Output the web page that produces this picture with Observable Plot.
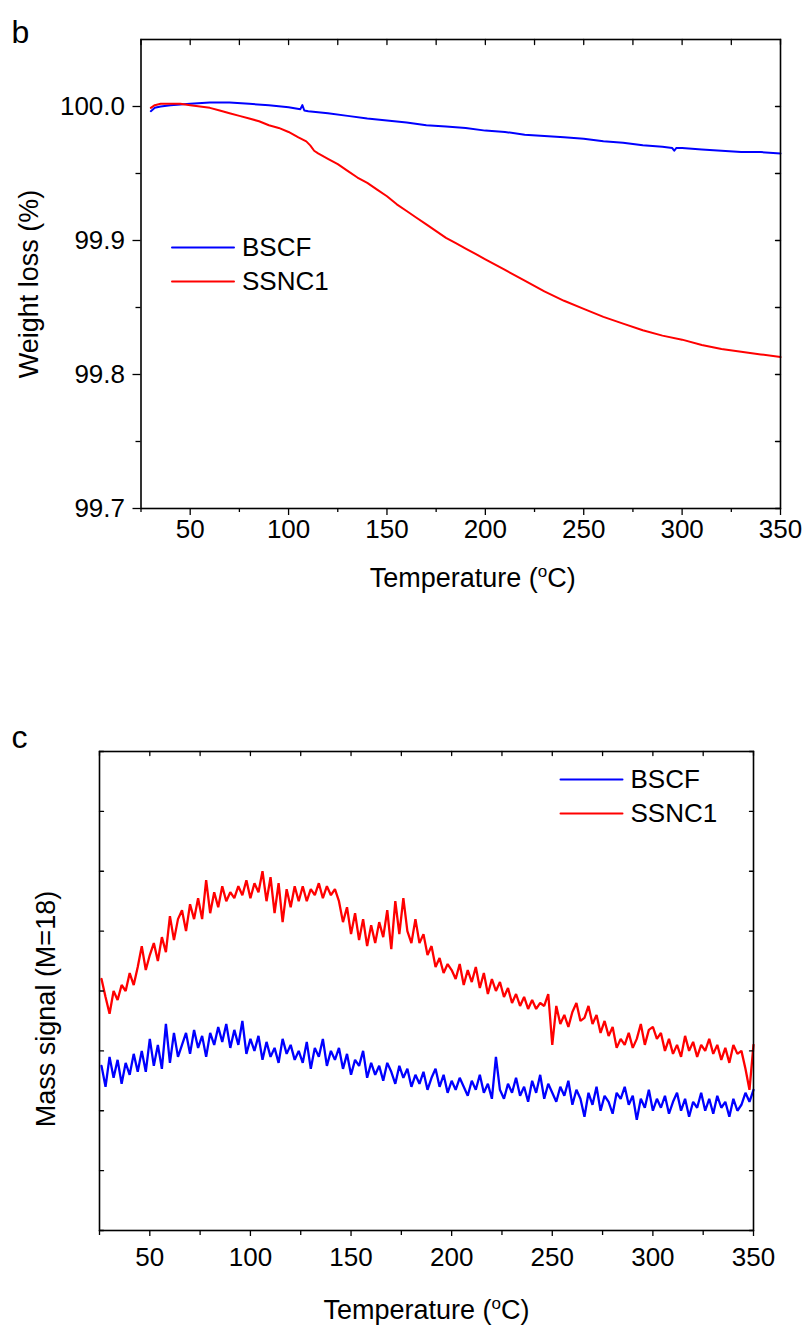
<!DOCTYPE html>
<html>
<head>
<meta charset="utf-8">
<script src="https://cdn.jsdelivr.net/npm/d3@7"></script>
<script src="https://cdn.jsdelivr.net/npm/@observablehq/plot@0.6"></script>
<style>
  html, body { margin: 0; padding: 0; background: #fff; }
  #wrap { position: relative; width: 808px; height: 1327px; background: #fff; overflow: hidden; }
  #wrap svg { position: absolute; left: 0; }
</style>
</head>
<body>
<div id="wrap"></div>
<script>
// ---------- Panel b: TGA weight loss ----------
const bTempBSCF = [30, 32, 35, 40, 50, 60, 70, 80, 90, 100, 106, 107, 108, 110, 120, 130, 140, 150, 160, 170, 180, 190, 200, 210, 220, 230, 240, 250, 260, 270, 280, 290, 295, 296, 297, 300, 310, 320, 330, 340, 350];
const bBSCF = [99.9965, 99.999, 100.000, 100.001, 100.002, 100.003, 100.003, 100.002, 100.001, 99.9995, 99.998, 100.001, 99.997, 99.9965, 99.995, 99.993, 99.991, 99.9895, 99.988, 99.986, 99.985, 99.984, 99.982, 99.981, 99.979, 99.978, 99.977, 99.976, 99.974, 99.973, 99.971, 99.970, 99.969, 99.967, 99.969, 99.969, 99.968, 99.967, 99.966, 99.966, 99.965];

const bTempSSNC1 = [30, 32, 35, 40, 45, 50, 55, 60, 65, 70, 75, 80, 85, 90, 95, 100, 105, 109, 111, 113, 115, 120, 125, 130, 135, 140, 145, 150, 155, 160, 165, 170, 175, 180, 185, 190, 195, 200, 210, 220, 230, 240, 250, 260, 270, 280, 290, 300, 310, 320, 330, 340, 350];
const bSSNC1 = [99.999, 100.001, 100.002, 100.002, 100.002, 100.001, 100.000, 99.999, 99.997, 99.995, 99.993, 99.991, 99.989, 99.986, 99.984, 99.981, 99.977, 99.974, 99.971, 99.967, 99.965, 99.961, 99.957, 99.952, 99.947, 99.943, 99.938, 99.933, 99.927, 99.922, 99.917, 99.912, 99.907, 99.902, 99.898, 99.894, 99.890, 99.886, 99.878, 99.870, 99.862, 99.855, 99.849, 99.843, 99.838, 99.833, 99.829, 99.826, 99.822, 99.819, 99.817, 99.815, 99.813];

const xMajor = [50, 100, 150, 200, 250, 300, 350];
const xMinor = [25, 75, 125, 175, 225, 275, 325];
const xAll = [25, 50, 75, 100, 125, 150, 175, 200, 225, 250, 275, 300, 325, 350];
const yMajorB = [99.7, 99.8, 99.9, 100.0];
const yMinorB = [99.75, 99.85, 99.95];
const yAllB = [99.7, 99.75, 99.8, 99.85, 99.9, 99.95, 100.0];

// ---------- Panel c: mass signal M=18 (arbitrary units) ----------
const cTemps = d3.range(26, 351, 2);
const cSSNC1 = [
  4.2, 3.9, 3.62, 4.0, 3.85, 4.1, 4.0, 4.3, 4.1, 4.4,
  4.75, 4.35, 4.6, 4.8, 4.5, 4.9, 4.65, 5.25, 4.85, 5.2,
  5.35, 5.0, 5.45, 5.2, 5.55, 5.2, 5.85, 5.3, 5.65, 5.4,
  5.75, 5.5, 5.65, 5.55, 5.75, 5.6, 5.85, 5.55, 5.8, 5.65,
  6.0, 5.5, 5.9, 5.3, 5.8, 5.15, 5.7, 5.4, 5.75, 5.5,
  5.75, 5.5, 5.7, 5.6, 5.8, 5.55, 5.75, 5.6, 5.7, 5.5,
  5.15, 5.4, 4.95, 5.3, 4.85, 5.2, 4.75, 5.1, 4.8, 5.15,
  4.9, 5.35, 4.7, 5.5, 4.95, 5.55, 5.0, 4.8, 5.2, 4.8,
  4.95, 4.6, 4.75, 4.4, 4.55, 4.3, 4.45, 4.35, 4.2, 4.45,
  4.1, 4.35, 4.15, 4.4, 4.05, 4.3, 3.95, 4.2, 4.0, 4.15,
  3.9, 4.05, 3.8, 3.95, 3.75, 3.9, 3.7, 3.85, 3.7, 3.8,
  3.75, 3.95, 3.1, 3.75, 3.45, 3.6, 3.4, 3.65, 3.8, 3.5,
  3.55, 3.75, 3.45, 3.6, 3.3, 3.5, 3.25, 3.4, 3.05, 3.2,
  3.1, 3.3, 3.05, 3.2, 3.45, 3.1, 3.35, 3.4, 3.2, 3.3,
  3.0, 3.2, 2.95, 3.1, 2.9, 3.25, 3.0, 3.15, 2.9, 3.1,
  3.0, 3.2, 2.95, 3.1, 2.85, 3.05, 2.8, 3.1, 2.95, 3.0,
  2.7, 2.35, 3.1
];
const cBSCF = [
  2.75, 2.4, 2.9, 2.55, 2.85, 2.45, 2.8, 2.6, 2.95, 2.65,
  3.0, 2.65, 3.2, 2.75, 3.1, 2.7, 3.45, 2.8, 3.3, 2.9,
  3.1, 3.3, 2.95, 3.35, 3.05, 3.25, 2.9, 3.3, 3.1, 3.4,
  3.15, 3.45, 3.05, 3.35, 3.1, 3.5, 2.95, 3.2, 3.0, 3.25,
  2.85, 3.15, 2.9, 3.05, 2.8, 3.2, 2.95, 3.1, 2.85, 3.0,
  2.8, 3.15, 2.7, 3.05, 2.9, 3.2, 2.75, 3.0, 2.85, 3.05,
  2.7, 2.95, 2.6, 2.85, 2.75, 3.0, 2.55, 2.8, 2.6, 2.75,
  2.5, 2.8, 2.65, 2.45, 2.75, 2.55, 2.7, 2.4, 2.6, 2.45,
  2.65, 2.35, 2.55, 2.7, 2.4, 2.6, 2.3, 2.5, 2.35, 2.55,
  2.4, 2.25, 2.5, 2.35, 2.6, 2.3, 2.45, 2.2, 2.9, 2.35,
  2.2, 2.45, 2.3, 2.55, 2.25, 2.4, 2.15, 2.5, 2.3, 2.6,
  2.2, 2.45, 2.3, 2.15, 2.4, 2.25, 2.5, 2.1, 2.35, 2.2,
  1.9, 2.3, 2.1, 2.4, 2.0, 2.25, 2.15, 1.95, 2.3, 2.2,
  2.4, 2.1, 2.25, 1.85, 2.2, 2.05, 2.35, 2.0, 2.2, 2.05,
  2.25, 1.95, 2.15, 2.3, 2.0, 2.2, 1.9, 2.15, 2.05, 2.3,
  2.0, 2.2, 1.95, 2.25, 2.05, 2.15, 1.9, 2.2, 2.0, 2.1,
  2.3, 2.15, 2.35
];
const yTicksC = [0, 1, 2, 3, 4, 5, 6, 7, 8];

const seriesNames = ["BSCF", "SSNC1"];
const seriesColors = ["#0000ff", "#ff0000"];

// ---------- helpers ----------
const FONT = "'Liberation Sans', Arial, Helvetica, sans-serif";
const tickShape = {draw(ctx, l) { ctx.moveTo(0, 0); ctx.lineTo(0, -l); }};
const inward = (vals, ch, frameAnchor, rotate, len) =>
  Plot.vector(vals, {[ch]: d => d, frameAnchor, length: len, rotate, anchor: "start", shape: tickShape, stroke: "black", strokeWidth: 1.3});
const legendMarks = (dx, dy0, gap) => seriesNames.flatMap((name, i) => [
  Plot.vector([name], {frameAnchor: "top-left", dx, dy: dy0 + i * gap, length: 62, rotate: 90, anchor: "start", shape: tickShape, stroke: seriesColors[i], strokeWidth: 2}),
  Plot.text([name], {text: d => d, frameAnchor: "top-left", dx: dx + 70, dy: dy0 + i * gap, textAnchor: "start", lineAnchor: "middle", fontSize: 26, fill: "black"})
]);

// ---------- Panel b ----------
const dataB_BSCF = bTempBSCF.map((t, i) => ({t, v: bBSCF[i]}));
const dataB_SSNC1 = bTempSSNC1.map((t, i) => ({t, v: bSSNC1[i]}));

const plotB = Plot.plot({
  width: 808, height: 620,
  marginLeft: 140.5, marginRight: 28, marginTop: 39, marginBottom: 112,
  style: {fontFamily: FONT, fontSize: "26px", background: "white", color: "black", overflow: "visible"},
  x: {domain: [25, 350]},
  y: {domain: [99.7, 100.05]},
  marks: [
    Plot.line(dataB_BSCF, {x: "t", y: "v", stroke: seriesColors[0], strokeWidth: 2}),
    Plot.line(dataB_SSNC1, {x: "t", y: "v", stroke: seriesColors[1], strokeWidth: 2}),
    Plot.frame({stroke: "black", strokeWidth: 1.6}),
    Plot.axisX({anchor: "bottom", ticks: xMajor, tickSize: 7, tickPadding: 4, tickFormat: d => String(d), label: null, fontSize: 26, strokeWidth: 1.3}),
    Plot.axisX({anchor: "bottom", ticks: xMinor, tickSize: 4, tickFormat: () => "", label: null, strokeWidth: 1.3}),
    Plot.axisY({anchor: "left", ticks: yMajorB, tickSize: 8, tickPadding: 8, tickFormat: d3.format(".1f"), label: null, fontSize: 26, strokeWidth: 1.3}),
    Plot.axisY({anchor: "left", ticks: yMinorB, tickSize: 5, tickFormat: () => "", label: null, strokeWidth: 1.3}),
    inward(xAll, "x", "top", 180, 5),
    inward(yAllB, "y", "right", 270, 5),
    ...legendMarks(31, 208, 34),
    Plot.text(["Weight loss (%)"], {frameAnchor: "left", dx: -112, dy: 10, rotate: -90, textAnchor: "middle", lineAnchor: "middle", fontSize: 27}),
    Plot.text(["Temperature (oC)"], {frameAnchor: "bottom", dx: 12, dy: 70, textAnchor: "middle", lineAnchor: "middle", fontSize: 27}),
    Plot.text(["b"], {frameAnchor: "top-left", dx: -129.5, dy: 3, textAnchor: "start", lineAnchor: "bottom", fontSize: 32})
  ]
});
plotB.style.top = "0px";

// ---------- Panel c ----------
const dataC_BSCF = cTemps.map((t, i) => ({t, v: cBSCF[i]}));
const dataC_SSNC1 = cTemps.map((t, i) => ({t, v: cSSNC1[i]}));

const plotC = Plot.plot({
  width: 808, height: 707,
  marginLeft: 99, marginRight: 55, marginTop: 131, marginBottom: 97,
  style: {fontFamily: FONT, fontSize: "26px", background: "white", color: "black", overflow: "visible"},
  x: {domain: [25, 350]},
  y: {domain: [0, 8], axis: null},
  marks: [
    Plot.line(dataC_BSCF, {x: "t", y: "v", stroke: seriesColors[0], strokeWidth: 2.3, strokeLinejoin: "miter"}),
    Plot.line(dataC_SSNC1, {x: "t", y: "v", stroke: seriesColors[1], strokeWidth: 2.3, strokeLinejoin: "miter"}),
    Plot.frame({stroke: "black", strokeWidth: 1.6}),
    Plot.axisX({anchor: "bottom", ticks: xMajor, tickSize: 6, tickPadding: 11, tickFormat: d => String(d), label: null, fontSize: 26, strokeWidth: 1.3}),
    Plot.axisX({anchor: "bottom", ticks: xMinor, tickSize: 5, tickFormat: () => "", label: null, strokeWidth: 1.3}),
    inward(xAll, "x", "top", 180, 4),
    inward(yTicksC, "y", "left", 90, 4),
    inward(yTicksC, "y", "right", 270, 4),
    ...legendMarks(461, 28, 34),
    Plot.text(["Mass signal (M=18)"], {frameAnchor: "left", dx: -53, dy: 18, rotate: -90, textAnchor: "middle", lineAnchor: "middle", fontSize: 27}),
    Plot.text(["Temperature (oC)"], {frameAnchor: "bottom", dx: 0, dy: 80, textAnchor: "middle", lineAnchor: "middle", fontSize: 27}),
    Plot.text(["c"], {frameAnchor: "top-left", dx: -88, dy: -4, textAnchor: "start", lineAnchor: "bottom", fontSize: 32})
  ]
});
plotC.style.top = "620px";

const wrap = document.getElementById("wrap");
wrap.appendChild(plotB);
wrap.appendChild(plotC);

// superscript "o" in the temperature labels
d3.selectAll("#wrap text").each(function () {
  if (this.textContent === "Temperature (oC)") {
    const t = d3.select(this);
    t.text(null);
    t.append("tspan").text("Temperature (");
    t.append("tspan").attr("dy", "-10").attr("font-size", "17").text("o");
    t.append("tspan").attr("dy", "10").text("C)");
  }
});
</script>
</body>
</html>
